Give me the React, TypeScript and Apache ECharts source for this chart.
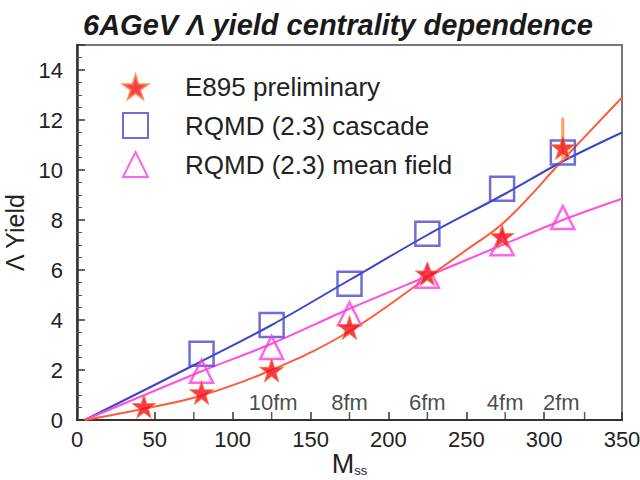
import React, { useEffect, useRef } from "react";
import * as echarts from "echarts";

// ---- data ----
const e895X = [43, 80, 125, 175, 225, 273, 312];
const e895Y = [0.55, 1.1, 2.0, 3.7, 5.85, 7.35, 10.9];
const errX = [312, 312];
const errY = [10.4, 12.1];

const cascadeX = [80, 125, 175, 225, 273, 312];
const cascadeY = [2.65, 3.8, 5.45, 7.45, 9.25, 10.7];

const meanX = [80, 125, 175, 225, 273, 312];
const meanY = [1.95, 2.9, 4.25, 5.75, 7.05, 8.1];

const curveCascadeX = [5, 80, 125, 175, 225, 275, 312, 350];
const curveCascadeY = [0, 2.35, 3.8, 5.6, 7.4, 9.05, 10.35, 11.5];

const curveMeanX = [5, 80, 125, 175, 225, 275, 312, 350];
const curveMeanY = [0, 1.95, 3.05, 4.45, 5.75, 7.05, 8.0, 8.85];

const curveE895X = [5, 43, 80, 125, 175, 225, 250, 275, 312, 350];
const curveE895Y = [0, 0.45, 0.98, 2.0, 3.55, 5.7, 6.8, 7.95, 10.4, 12.9];

const fmTickX = [75, 125, 175, 225, 275, 326];
const fmLabelX = [126, 175, 225, 275, 311];
const fmLabels = ["10fm", "8fm", "6fm", "4fm", "2fm"];

const seriesNames = ["E895 preliminary", "RQMD (2.3) cascade", "RQMD (2.3) mean field"];
const titleText = "6AGeV \u039b yield centrality dependence";
const yName = "\u039b Yield";

const STAR =
  "path://M50,0 L61,35 L98,35 L68,57 L79,91 L50,70 L21,91 L32,57 L2,35 L39,35 Z";

const zip = (xs: number[], ys: number[]) => xs.map((x, i) => [x, ys[i]]);

export default function App() {
  const ref = useRef<HTMLDivElement>(null);
  useEffect(() => {
    if (!ref.current) return;
    const chart = echarts.init(ref.current, null, { renderer: "svg" });
    const font = "'Liberation Sans', Arial, sans-serif";
    chart.setOption({
      animation: false,
      backgroundColor: "#fff",
      textStyle: { fontFamily: font },
      title: {
        text: titleText,
        left: 78,
        top: 5,
        textStyle: {
          fontFamily: font,
          fontSize: 29,
          fontWeight: "bold",
          fontStyle: "italic",
          color: "#1a1a1a",
        },
      },
      grid: {
        left: 77,
        right: 18,
        top: 45,
        bottom: 60,
        show: true,
        borderColor: "#777",
        borderWidth: 2,
        outerBoundsMode: "none",
        containLabel: false,
      },
      legend: {
        data: seriesNames,
        orient: "vertical",
        left: 117,
        top: 69,
        itemWidth: 25,
        itemHeight: 25,
        itemGap: 12,
        textStyle: {
          fontFamily: font,
          fontSize: 26,
          color: "#222",
          padding: [0, 0, 0, 32],
        },
      },
      xAxis: {
        type: "value",
        min: 0,
        max: 350,
        interval: 50,
        name: "{m|M}{s|ss}",
        nameLocation: "middle",
        nameGap: 30,
        nameMoveOverlap: false,
        nameTextStyle: {
          rich: {
            m: { fontFamily: font, fontSize: 27, color: "#222", lineHeight: 27 },
            s: { fontFamily: font, fontSize: 13, color: "#222", lineHeight: 27, verticalAlign: "bottom" },
          },
        },
        axisLine: { onZero: false, lineStyle: { color: "#333", width: 2 } },
        axisTick: { inside: true, length: 8, lineStyle: { color: "#333", width: 1.5 } },
        axisLabel: { fontFamily: font, fontSize: 22, color: "#222", margin: 8 },
        splitLine: { show: false },
      },
      yAxis: {
        type: "value",
        min: 0,
        max: 15,
        interval: 2,
        name: yName,
        nameLocation: "middle",
        nameGap: 50,
        nameMoveOverlap: false,
        nameTextStyle: { fontFamily: font, fontSize: 25, color: "#222" },
        axisLine: { onZero: false, lineStyle: { color: "#333", width: 2.5 } },
        axisTick: { inside: true, length: 8, lineStyle: { color: "#333", width: 1.5 } },
        minorTick: { show: true, splitNumber: 4, length: 5, lineStyle: { color: "#555", width: 1 } },
        axisLabel: { fontFamily: font, fontSize: 22, color: "#222", margin: 14, showMaxLabel: false },
        splitLine: { show: false },
      },
      series: [
        {
          name: "cascade curve",
          type: "line",
          data: zip(curveCascadeX, curveCascadeY),
          smooth: 0.3,
          showSymbol: false,
          symbol: "none",
          lineStyle: { color: "#3a46c8", width: 2 },
          z: 2,
        },
        {
          name: "mean field curve",
          type: "line",
          data: zip(curveMeanX, curveMeanY),
          smooth: 0.3,
          showSymbol: false,
          symbol: "none",
          lineStyle: { color: "#ff4ee0", width: 2 },
          z: 2,
        },
        {
          name: "E895 curve",
          type: "line",
          data: zip(curveE895X, curveE895Y),
          smooth: 0.4,
          showSymbol: false,
          symbol: "none",
          lineStyle: { color: "#ff5a3a", width: 2 },
          z: 2,
        },
        {
          name: "E895 error",
          type: "line",
          data: zip(errX, errY),
          showSymbol: false,
          symbol: "none",
          lineStyle: { color: "#ffa060", width: 3 },
          z: 3,
        },
        {
          name: seriesNames[1],
          type: "scatter",
          data: zip(cascadeX, cascadeY),
          symbol: "rect",
          symbolSize: 24,
          itemStyle: { color: "rgba(255,255,255,0)", borderColor: "#4a4ad0", borderWidth: 2.5 },
          z: 4,
        },
        {
          name: seriesNames[2],
          type: "scatter",
          data: zip(meanX, meanY),
          symbol: "triangle",
          symbolSize: 23,
          itemStyle: { color: "rgba(255,255,255,0)", borderColor: "#ff3ee0", borderWidth: 2.5 },
          z: 4,
        },
        {
          name: seriesNames[0],
          type: "scatter",
          data: zip(e895X, e895Y),
          symbol: STAR,
          symbolSize: 24,
          itemStyle: { color: "#f0101a", borderColor: "#ff7a40", borderWidth: 1 },
          z: 5,
        },
        {
          name: "fm ticks",
          type: "scatter",
          data: fmTickX.map((x) => [x, 0]),
          symbol: "rect",
          symbolSize: [1.5, 8],
          symbolOffset: [0, -4],
          itemStyle: { color: "#333" },
          silent: true,
          z: 6,
        },
        {
          name: "fm labels",
          type: "scatter",
          data: fmLabelX.map((x, i) => ({ value: [x, 0.7], name: fmLabels[i] })),
          symbolSize: 0,
          label: {
            show: true,
            position: "inside",
            formatter: (p: any) => p.name,
            fontFamily: font,
            fontSize: 22,
            color: "#1a1a1a",
          },
          silent: true,
          z: 6,
        },
      ],
    });
    return () => chart.dispose();
  }, []);
  return (
    <div
      ref={ref}
      style={{ position: "fixed", left: 0, top: 0, width: 640, height: 480 }}
    />
  );
}
